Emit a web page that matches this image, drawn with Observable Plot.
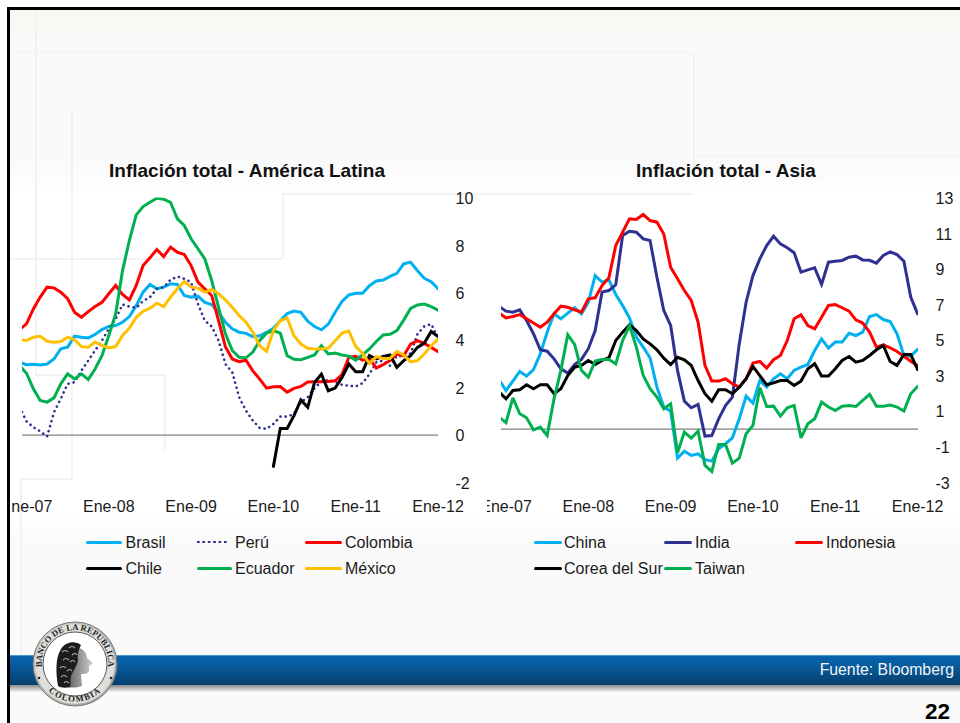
<!DOCTYPE html>
<html lang="es">
<head>
<meta charset="utf-8">
<script src="https://cdn.jsdelivr.net/npm/d3@7"></script>
<script src="https://cdn.jsdelivr.net/npm/@observablehq/plot@0.6"></script>
<style>
  html, body { margin: 0; padding: 0; background: #fff; }
  #slide { position: relative; width: 960px; height: 723px; overflow: hidden; background: #fafafa; font-family: "Liberation Sans", Arial, sans-serif; color: #1a1a1a; }
  .abs { position: absolute; }
  .deco { position: absolute; background: #f2f2f2; }
  .chart { position: absolute; top: 180px; height: 340px; overflow: hidden; }
  .chart svg { background: transparent; overflow: visible; }
  .title { position: absolute; font-weight: bold; font-size: 19px; line-height: 22px; color: #111; text-align: center; white-space: nowrap; }
  .lg-text { position: absolute; font-size: 16px; line-height: 20px; white-space: nowrap; color: #1a1a1a; }
  .lg-swatch { position: absolute; height: 4px; }
</style>
</head>
<body>
<div id="slide">
  <div class="abs" style="left:10px;top:165px;width:950px;height:375px;background:linear-gradient(#fafafa 0,#fff 30px,#fff 350px,#fafafa 100%)"></div>
  <div class="abs" style="left:10px;top:10px;width:950px;height:24px;background:#f8f8f4"></div>
  <!-- faint template lines -->
  <div class="deco" style="left:35px;top:10px;width:2px;height:364px"></div>
  <div class="deco" style="left:10px;top:52px;width:683px;height:1px"></div>
  <div class="deco" style="left:693px;top:52px;width:2px;height:128px"></div>
  <div class="deco" style="left:693px;top:156px;width:267px;height:1px"></div>
  <div class="deco" style="left:71px;top:112px;width:2px;height:366px"></div>
  <div class="deco" style="left:282px;top:193px;width:410px;height:2px"></div>
  <div class="deco" style="left:282px;top:193px;width:2px;height:66px"></div>
  <div class="deco" style="left:10px;top:258px;width:272px;height:2px"></div>
  <div class="deco" style="left:35px;top:374px;width:130px;height:2px"></div>
  <div class="deco" style="left:164px;top:374px;width:2px;height:76px"></div>
  <div class="deco" style="left:20px;top:478px;width:52px;height:2px"></div>
  <div class="deco" style="left:20px;top:480px;width:2px;height:175px"></div>

  <div id="left" class="chart" style="left:11px;width:477px"></div>
  <div id="right" class="chart" style="left:487px;width:473px"></div>

  <div class="title" style="left:47px;width:400px;top:160px">Inflación total - América Latina</div>
  <div class="title" style="left:526px;width:400px;top:160px">Inflación total - Asia</div>

  <div id="legendLeft"></div>
  <div id="legendRight"></div>

  <!-- banner -->
  <div class="abs" style="left:10px;top:685px;width:950px;height:7px;background:linear-gradient(#8a8a8a,#e8e8e8 90%,#fafafa)"></div>
  <div class="abs" style="left:10px;top:655px;width:950px;height:30px;background:linear-gradient(#0a63ae 0%,#075a9c 35%,#053f6e 100%);border-top:1px solid #4d9ac8;box-sizing:border-box"></div>
  <div class="abs" style="right:6px;top:661px;color:#f2f6fa;font-size:15.8px;line-height:18px;white-space:nowrap">Fuente: Bloomberg</div>
  <div class="abs" style="right:10px;top:699px;font-weight:bold;font-size:22.5px;line-height:26px;color:#000">22</div>

  <!-- seal -->
  <svg class="abs" style="left:28px;top:617px" width="94" height="94" viewBox="-47 -47 94 94">
    <defs>
      <linearGradient id="ring" x1="0" y1="0" x2="1" y2="1"><stop offset="0" stop-color="#d0d0cc"/><stop offset="1" stop-color="#a0a09a"/></linearGradient>
      <linearGradient id="face" x1="0" y1="0" x2="1" y2="0"><stop offset="0" stop-color="#555"/><stop offset="1" stop-color="#cfcfcf"/></linearGradient>
      <path id="arcTop" d="M -31 11.5 A 33.3 33.3 0 1 1 31 11.5"/>
      <path id="arcBot" d="M -32 21 A 39 39 0 0 0 32 21"/>
    </defs>
    <circle r="42" fill="url(#ring)" stroke="#777" stroke-width="1"/>
    <circle r="40" fill="#dededa"/>
    <circle r="32" fill="#fff" stroke="#555" stroke-width="1"/>
    <text font-family="'Liberation Serif',serif" font-weight="bold" font-size="8.6" fill="#222"><textPath href="#arcTop" startOffset="50%" text-anchor="middle">BANCO DE LA REPUBLICA</textPath></text>
    <text font-family="'Liberation Serif',serif" font-weight="bold" font-size="8.6" fill="#222" letter-spacing="1.2"><textPath href="#arcBot" startOffset="50%" text-anchor="middle">COLOMBIA</textPath></text>
    <circle cx="-36" cy="14" r="1.3" fill="#222"/><circle cx="36" cy="14" r="1.3" fill="#222"/>
    <!-- face and neck -->
    <path d="M -2 -16 C 6 -18 12 -12 12 -6 L 18 -1 L 14 2 L 14 7 C 13 10 9 10 6 10 L 7 22 C 1 24 -6 24 -10 22 Z" fill="url(#face)"/>
    <!-- hair -->
    <path d="M -17 22 C -19 10 -20 -6 -14 -15 C -10 -22 0 -24 6 -19 C 3 -14 2 -8 3 -3 C 1 3 -2 7 -4 12 C -5 16 -4 20 -5 23 C -9 24 -14 24 -17 22 Z" fill="#1c1c1c"/>
    <g fill="none" stroke="#b5b5b5" stroke-width="1.1">
      <path d="M -13 -12 q 3 -3 6 0"/><path d="M -6 -16 q 3 -3 6 0"/><path d="M -3 -9 q 3 -3 5 0"/><path d="M -12 -4 q 3 -3 6 0"/><path d="M -5 -2 q 3 -3 5 0"/>
      <path d="M -15 4 q 3 -3 6 0"/><path d="M -8 7 q 3 -3 5 0"/><path d="M -14 13 q 3 -3 6 0"/><path d="M -11 19 q 2 -3 5 0"/>
    </g>
  </svg>

  <!-- slide frame -->
  <div class="abs" style="left:0;top:0;width:960px;height:7px;background:#fff"></div>
  <div class="abs" style="left:0;top:0;width:7px;height:723px;background:#fff"></div>
  <div class="abs" style="left:7px;top:7px;width:953px;height:3px;background:#000"></div>
  <div class="abs" style="left:7px;top:7px;width:3px;height:716px;background:#000"></div>
</div>

<script>
// Month index runs from Dic-06 (-1) to Ene-12 (60); one value per month.
const months = d3.range(-1, 61);
const yearTicks = [0, 12, 24, 36, 48, 60];
const yearLabels = ["Ene-07", "Ene-08", "Ene-09", "Ene-10", "Ene-11", "Ene-12"];

const brasil = [3.07,2.97,2.99,2.96,3.0,3.21,3.64,3.71,4.17,4.13,4.1,4.24,4.45,4.58,4.62,4.76,5.0,5.46,6.03,6.35,6.17,6.24,6.38,6.35,5.89,5.82,5.86,5.6,5.51,5.18,4.76,4.48,4.34,
  4.29,4.15,4.19,4.33,4.51,4.82,5.13,5.23,5.18,4.8,4.58,4.44,4.68,5.18,5.64,5.91,5.98,5.98,6.3,6.5,6.54,6.69,6.82,7.22,7.29,6.93,6.61,6.47,6.17];
const peru = [1.17,0.58,0.33,0.16,-0.06,0.96,1.53,2.16,2.23,2.72,3.14,3.57,3.99,4.48,4.9,5.51,5.42,5.37,5.65,5.82,6.17,6.24,6.55,6.69,6.59,6.45,5.53,4.83,4.58,3.99,3.0,2.65,1.6,
  1.03,0.61,0.3,0.26,0.47,0.78,0.78,0.89,1.38,1.6,1.98,2.26,2.32,2.24,2.12,2.08,2.05,2.19,2.57,3.07,3.14,2.93,3.35,3.31,3.45,4.26,4.59,4.68,4.12];
const colombia = [4.45,4.69,5.32,5.82,6.24,6.21,6.03,5.75,5.18,4.97,5.21,5.42,5.6,5.96,6.31,5.93,5.7,6.31,7.15,7.48,7.83,7.53,7.93,7.71,7.62,7.15,6.45,6.17,5.89,4.83,3.73,3.21,3.1,
  3.16,2.71,2.36,1.98,2.04,2.05,1.81,1.97,2.05,2.24,2.25,2.25,2.26,2.29,2.55,3.28,3.32,3.16,3.23,2.83,2.97,3.14,3.42,3.35,3.84,3.98,3.87,3.7,3.52];
const chile = [null,null,null,null,null,null,null,null,null,null,null,null,null,null,null,null,null,null,null,null,null,null,null,null,null,null,null,null,null,null,null,null,null,
  null,null,null,null,-1.32,0.28,0.28,0.82,1.48,1.17,2.22,2.57,1.87,1.98,2.43,3.0,2.67,2.67,3.35,3.21,3.32,3.38,2.86,3.14,3.35,3.7,3.88,4.37,4.16];
const ecuador = [2.93,2.61,1.95,1.46,1.39,1.57,2.16,2.58,2.37,2.58,2.34,2.79,3.35,4.2,5.11,6.94,8.21,9.29,9.64,9.82,9.99,9.95,9.82,9.12,8.84,8.28,7.86,7.43,6.52,5.39,4.27,3.57,3.28,
  3.26,3.5,3.99,4.3,4.41,4.3,3.35,3.2,3.18,3.28,3.38,3.77,3.42,3.46,3.38,3.33,3.16,3.39,3.63,3.95,4.22,4.25,4.41,4.85,5.34,5.49,5.53,5.42,5.27];
const mexico = [4.02,3.99,4.13,4.17,3.96,3.92,3.95,4.13,4.02,3.73,3.71,3.92,3.78,3.68,3.73,4.2,4.51,4.97,5.22,5.35,5.56,5.42,5.82,6.17,6.48,6.24,6.2,6.03,6.14,5.96,5.7,5.39,5.04,
  4.76,4.34,3.77,3.53,4.41,4.82,4.94,4.19,3.84,3.66,3.63,3.63,3.67,3.98,4.3,4.39,3.73,3.45,3.02,3.31,3.23,3.23,3.53,3.38,3.09,3.14,3.42,3.77,4.05];

const china = [2.77,2.17,2.7,3.24,2.98,3.35,4.23,5.45,6.48,6.2,6.52,6.82,6.48,7.13,8.63,8.26,8.39,7.57,6.95,6.25,5.17,4.61,4.01,2.36,1.24,1.01,-1.63,-1.24,-1.48,-1.39,-1.72,-1.8,-1.1,
  -0.82,-0.49,0.58,1.85,1.46,2.73,2.36,2.83,3.11,2.83,3.3,3.48,3.63,4.42,5.07,4.55,4.89,4.89,5.39,5.26,5.45,6.33,6.44,6.16,6.05,5.36,4.14,4.1,4.49];
const india = [6.89,6.63,6.57,6.7,6.1,5.36,4.46,4.38,3.95,3.39,3.15,3.63,3.92,4.52,5.54,7.7,7.79,8.11,10.88,11.12,11.07,10.69,10.6,8.54,6.67,5.83,3.3,1.57,1.2,1.39,-0.39,-0.36,0.58,
  1.33,1.8,4.79,7.13,8.63,9.57,10.32,10.84,10.41,10.19,9.91,8.82,8.95,9.06,8.13,9.38,9.44,9.48,9.66,9.72,9.51,9.49,9.33,9.76,9.96,9.81,9.44,7.42,6.48];
const indonesia = [6.52,6.25,6.33,6.44,6.2,5.96,5.73,6.01,6.48,6.91,6.85,6.7,6.57,7.32,7.38,8.07,8.5,10.32,11.07,11.82,11.78,12.06,11.72,11.63,10.97,9.1,8.45,7.79,7.23,6.01,3.58,2.7,2.7,
  2.83,2.55,2.36,2.83,3.71,3.8,3.43,3.9,4.14,4.98,6.2,6.42,5.82,5.64,6.29,6.95,7.0,6.82,6.63,6.14,5.96,5.45,4.61,4.74,4.57,4.36,4.1,3.82,3.56];
const corea = [2.08,1.7,2.17,2.21,2.49,2.27,2.49,2.49,1.99,2.27,3.01,3.48,3.58,3.86,3.63,3.86,4.01,4.98,5.45,5.86,5.54,5.07,4.79,4.46,3.99,3.63,4.04,3.9,3.58,2.73,1.99,1.57,2.21,
  2.21,1.99,2.36,2.83,3.52,3.01,2.49,2.6,2.73,2.73,2.45,2.7,3.39,3.67,2.98,2.98,3.39,3.86,4.08,3.76,3.86,4.14,4.46,4.7,3.8,3.58,4.19,4.19,3.35];
const taiwan = [0.67,0.36,1.76,0.86,0.64,-0.04,0.11,-0.36,1.7,3.3,5.3,4.76,3.3,2.92,3.82,3.91,3.91,3.67,4.98,5.82,4.61,3.01,2.27,1.8,1.14,1.42,-1.33,-0.17,-0.51,-0.11,-2.04,-2.38,-0.86,
  -0.86,-1.91,-1.63,-0.26,0.21,2.32,1.27,1.29,0.73,1.2,1.33,-0.49,0.3,0.58,1.52,1.24,1.05,1.29,1.33,1.27,1.61,1.95,1.29,1.29,1.35,1.24,1.01,1.99,2.4];

const leftTicks = [-2, 0, 2, 4, 6, 8, 10];
const rightTicks = [-3, -1, 1, 3, 5, 7, 9, 11, 13];

const leftSeries = [
  {name: "Brasil", values: brasil, color: "#00B0F0"},
  {name: "Perú", values: peru, color: "#2E3192", dash: "0.1,5.1", width: 2.6, cap: "round"},
  {name: "Colombia", values: colombia, color: "#FF0000"},
  {name: "Chile", values: chile, color: "#000000"},
  {name: "Ecuador", values: ecuador, color: "#00B050"},
  {name: "México", values: mexico, color: "#FFC000"}
];
const rightSeries = [
  {name: "China", values: china, color: "#00B0F0"},
  {name: "India", values: india, color: "#2E3192"},
  {name: "Indonesia", values: indonesia, color: "#FF0000"},
  {name: "Corea del Sur", values: corea, color: "#000000"},
  {name: "Taiwan", values: taiwan, color: "#00B050"}
];

function chart(series, o) {
  return Plot.plot({
    width: o.width, height: 340,
    marginLeft: o.marginLeft, marginRight: o.marginRight, marginTop: o.marginTop, marginBottom: 38,
    style: {background: "transparent", fontFamily: '"Liberation Sans", Arial, sans-serif', fontSize: "16px", color: "#1a1a1a", overflow: "visible"},
    x: {domain: o.xDomain},
    y: {domain: o.yDomain},
    marks: [
      Plot.ruleY([0], {stroke: "#808080", strokeWidth: 1.2}),
      ...series.map(s => Plot.line(months, {
        x: d => d,
        y: d => s.values[d + 1],
        defined: d => s.values[d + 1] != null,
        stroke: s.color,
        strokeWidth: s.width || 3,
        strokeDasharray: s.dash,
        strokeLinecap: s.cap || "round",
        strokeLinejoin: "miter",
        strokeMiterlimit: 3,
        curve: "linear",
        clip: true
      })),
      Plot.axisX({
        ticks: yearTicks, tickSize: 0, tickPadding: 18,
        tickFormat: d => yearLabels[yearTicks.indexOf(d)],
        label: null, fontSize: 16, fill: "#1a1a1a"
      }),
      Plot.axisY({
        anchor: "right", ticks: o.yTicks, tickSize: 0, tickPadding: 17, dy: 1,
        tickFormat: d => String(d), label: null, fontSize: 16, fill: "#1a1a1a"
      })
    ]
  });
}

document.getElementById("left").append(chart(leftSeries, {
  width: 477, marginLeft: 11, marginRight: 50, marginTop: 17.5,
  xDomain: [-0.583, 60.07], yDomain: [-2, 10], yTicks: leftTicks
}));
document.getElementById("right").append(chart(rightSeries, {
  width: 473, marginLeft: 14, marginRight: 42, marginTop: 17.3,
  xDomain: [-0.656, 60.13], yDomain: [-3, 13], yTicks: rightTicks
}));

function legend(el, series, items) {
  series.forEach((s, i) => {
    const it = items[i];
    const sw = document.createElement("div");
    sw.className = "lg-swatch";
    sw.style.left = it.x0 + "px";
    sw.style.width = (it.x1 - it.x0) + "px";
    sw.style.top = (it.y - 1.5) + "px";
    sw.style.height = "3px";
    if (s.dash) {
      sw.style.background = `radial-gradient(circle at 1.2px 1.2px, ${s.color} 1.2px, transparent 1.4px) 0 0 / 5.4px 2.4px repeat-x`;
      sw.style.height = "2.4px";
      sw.style.top = (it.y - 1.2) + "px";
    } else {
      sw.style.background = s.color;
      sw.style.borderRadius = "2px";
    }
    el.append(sw);
    const t = document.createElement("div");
    t.className = "lg-text";
    t.textContent = s.name;
    t.style.left = it.tx + "px";
    t.style.top = (it.y - 10.5 + 1) + "px";
    el.append(t);
  });
}
legend(document.getElementById("legendLeft"), leftSeries, [
  {x0: 86, x1: 122, tx: 125.5, y: 542}, {x0: 197, x1: 229, tx: 235, y: 542}, {x0: 305, x1: 342, tx: 345, y: 542},
  {x0: 86, x1: 122, tx: 125.5, y: 568}, {x0: 197, x1: 232, tx: 235, y: 568}, {x0: 305, x1: 342, tx: 345, y: 568}
]);
legend(document.getElementById("legendRight"), rightSeries, [
  {x0: 534, x1: 562, tx: 564, y: 542}, {x0: 664, x1: 692, tx: 695, y: 542}, {x0: 795, x1: 823, tx: 826, y: 542},
  {x0: 534, x1: 562, tx: 564, y: 568}, {x0: 664, x1: 692, tx: 695, y: 568}
]);
</script>
</body>
</html>
